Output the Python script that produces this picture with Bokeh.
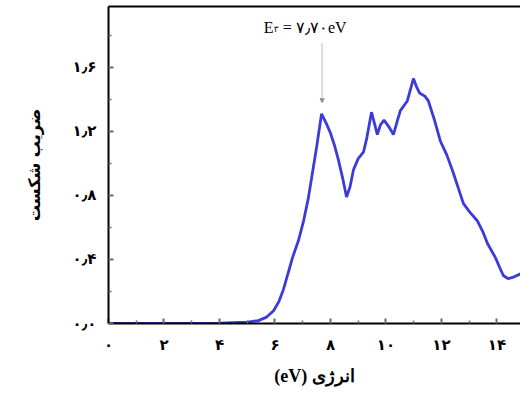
from bokeh.plotting import figure
from bokeh.models import Range1d, LinearAxis, FixedTicker, Label, Arrow, NormalHead
from bokeh.embed import file_html
from bokeh.resources import INLINE

# ---- data ----
energy = [0, 1, 2, 3, 4, 5, 5.4, 5.7, 5.95, 6.15, 6.3, 6.5, 6.63, 6.85, 7.03, 7.2,
          7.35, 7.5, 7.68, 7.85, 8.0, 8.15, 8.29, 8.45, 8.58, 8.7, 8.83, 9.0, 9.19,
          9.3, 9.48, 9.6, 9.69, 9.8, 9.93, 10.1, 10.27, 10.4, 10.52, 10.77, 10.99,
          11.1, 11.21, 11.4, 11.53, 11.75, 11.96, 12.2, 12.43, 12.6, 12.79, 13.0,
          13.3, 13.5, 13.66, 13.95, 14.1, 14.23, 14.4, 14.6, 14.85]
refr_index = [0, 0, 0, 0, 0.002, 0.008, 0.018, 0.04, 0.08, 0.14, 0.21, 0.33, 0.41,
              0.52, 0.64, 0.78, 0.94, 1.10, 1.31, 1.25, 1.19, 1.11, 1.02, 0.90, 0.79,
              0.85, 0.96, 1.03, 1.07, 1.15, 1.32, 1.24, 1.18, 1.24, 1.27, 1.23, 1.18,
              1.26, 1.33, 1.39, 1.53, 1.48, 1.44, 1.42, 1.39, 1.27, 1.14, 1.05, 0.94,
              0.85, 0.75, 0.70, 0.64, 0.57, 0.50, 0.41, 0.35, 0.30, 0.28, 0.29, 0.31]

x_ticks = [0, 2, 4, 6, 8, 10, 12, 14]
x_minor = [1, 3, 5, 7, 9, 11, 13]
x_tick_labels = ["۰", "۲", "۴", "۶", "۸", "۱۰", "۱۲", "۱۴"]
y_ticks = [0, 0.4, 0.8, 1.2, 1.6]
y_minor = [0.2, 0.6, 1.0, 1.4, 1.8]
y_tick_labels = ["۰٫۰", "۰٫۴", "۰٫۸", "۱٫۲", "۱٫۶"]

x_title = "(eV) انرژی"
y_title = "ضریب شکست"
peak_energy = 7.70
arrow_top, arrow_tip = 1.75, 1.38
note_main, note_sub, note_rest = "E", "۳", "= ۷٫۷۰eV"
note_x, note_y = 5.6, 1.85

# ---- figure ----
p = figure(width=520, height=394, x_range=Range1d(0, 14.85), y_range=Range1d(0, 1.98),
           output_backend="svg", toolbar_location=None,
           min_border_left=108, min_border_right=0, min_border_top=6, min_border_bottom=71)
p.grid.visible = False
p.outline_line_color = None
p.background_fill_color = "white"
p.border_fill_color = "white"

p.line(energy, refr_index, line_color="#3b3bdc", line_width=2.8)

tick_color = "#6a6a6a"
for ax, ticks, minor, labels in [(p.xaxis[0], x_ticks, x_minor, x_tick_labels),
                                 (p.yaxis[0], y_ticks, y_minor, y_tick_labels)]:
    ax.ticker = FixedTicker(ticks=ticks, minor_ticks=minor)
    ax.major_label_overrides = {t: l for t, l in zip(ticks, labels)}
    ax.axis_line_color = "black"
    ax.axis_line_width = 2
    ax.major_tick_in = 5
    ax.major_tick_out = 0
    ax.minor_tick_in = 3
    ax.minor_tick_out = 0
    ax.major_tick_line_color = tick_color
    ax.minor_tick_line_color = tick_color
    ax.major_tick_line_width = 2
    ax.minor_tick_line_width = 1.5
    ax.major_label_text_font = "DejaVu Sans"
    ax.major_label_text_font_style = "bold"
    ax.major_label_text_font_size = "15px"
    ax.major_label_text_color = "black"
    ax.major_label_standoff = 12
    ax.axis_label_text_font = "DejaVu Sans"
    ax.axis_label_text_font_style = "bold"
    ax.axis_label_text_font_size = "16px"
    ax.axis_label_text_color = "black"

p.xaxis.axis_label = x_title
p.xaxis.axis_label_standoff = 9
p.xaxis.axis_label_text_font = "Liberation Serif"
p.xaxis.axis_label_text_font_size = "18px"
p.yaxis.axis_label = y_title
p.yaxis.axis_label_standoff = 26

top = LinearAxis(ticker=FixedTicker(ticks=[]), major_label_text_font_size="0px",
                 major_tick_out=0, minor_tick_out=0, major_tick_in=0, minor_tick_in=0,
                 major_label_standoff=0, axis_line_width=2, axis_line_color="black")
p.add_layout(top, "above")

p.add_layout(Arrow(end=NormalHead(size=4, fill_color="#8a8a8a", line_color="#8a8a8a"),
                   x_start=peak_energy, y_start=arrow_top, x_end=peak_energy, y_end=arrow_tip,
                   line_color="#dcdcdc", line_width=2))

fnt = "Liberation Serif"
p.add_layout(Label(x=note_x, y=note_y, text=note_main, text_font=fnt,
                   text_font_size="16px", text_color="black", text_baseline="alphabetic"))
p.add_layout(Label(x=note_x, y=note_y, x_offset=10, y_offset=-2, text=note_sub,
                   text_font="DejaVu Sans", text_font_size="9px", text_color="black",
                   text_baseline="alphabetic"))
p.add_layout(Label(x=note_x, y=note_y, x_offset=19, text=note_rest, text_font=fnt,
                   text_font_size="16px", text_color="black", text_baseline="alphabetic"))

open("out.html", "w").write(file_html(p, INLINE))
